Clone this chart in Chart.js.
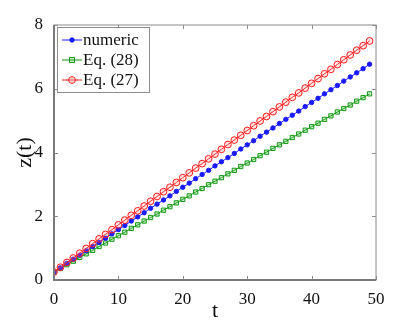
<!DOCTYPE html>
<html>
<head>
<meta charset="utf-8">
<script src="https://cdn.jsdelivr.net/npm/chart.js@4/dist/chart.umd.min.js"></script>
<style>
  html, body { margin: 0; padding: 0; background: #fff; }
  #wrap { width: 415px; height: 324px; }
</style>
</head>
<body>
<div id="wrap"><canvas id="zchart" width="415" height="324"></canvas></div>
<script>
// t = 0 .. 49
const tValues = [0,1,2,3,4,5,6,7,8,9,10,11,12,13,14,15,16,17,18,19,20,21,22,23,24,
                 25,26,27,28,29,30,31,32,33,34,35,36,37,38,39,40,41,42,43,44,45,46,47,48,49];
const numeric = [0.25,0.38,0.52,0.65,0.78,0.92,1.05,1.18,1.31,1.45,1.58,1.71,1.85,1.98,2.11,2.25,2.38,2.51,2.64,2.78,
                 2.91,3.04,3.18,3.31,3.44,3.58,3.71,3.84,3.97,4.11,4.24,4.37,4.51,4.64,4.77,4.91,5.04,5.17,5.30,5.44,
                 5.57,5.70,5.84,5.97,6.10,6.24,6.37,6.50,6.63,6.77];
const eq28 = [0.25,0.36,0.48,0.59,0.71,0.82,0.93,1.05,1.16,1.28,1.39,1.50,1.62,1.73,1.85,1.96,2.07,2.19,2.30,2.42,
              2.53,2.64,2.76,2.87,2.99,3.10,3.21,3.33,3.44,3.56,3.67,3.78,3.90,4.01,4.13,4.24,4.35,4.47,4.58,4.70,
              4.81,4.92,5.04,5.15,5.27,5.38,5.49,5.61,5.72,5.84];
const eq27 = [0.25,0.40,0.55,0.69,0.84,0.99,1.14,1.29,1.43,1.58,1.73,1.88,2.03,2.17,2.32,2.47,2.62,2.77,2.91,3.06,
              3.21,3.36,3.51,3.65,3.80,3.95,4.10,4.25,4.39,4.54,4.69,4.84,4.99,5.13,5.28,5.43,5.58,5.73,5.87,6.02,
              6.17,6.32,6.47,6.61,6.76,6.91,7.06,7.21,7.35,7.50];
const seriesNames = ["numeric", "Eq. (28)", "Eq. (27)"];
const xTicks = [0,10,20,30,40,50];
const yTicks = [0,2,4,6,8];

const FONT = "'Liberation Serif', 'DejaVu Serif', serif";
const AXIS = "#8c8c8c";

function pts(ys) { return tValues.map((t, i) => ({x: t, y: ys[i]})); }

// inward ticks on all four sides, spines, boxed legend
const framePlugin = {
    id: 'frame',
    afterDatasetsDraw(chart) {
        const ctx = chart.ctx, a = chart.chartArea;
        const xs = chart.scales.x, ys = chart.scales.y;
        ctx.save();
        ctx.strokeStyle = AXIS;
        ctx.lineWidth = 1;
        ctx.beginPath();
        xTicks.forEach(v => {
            const px = Math.round(xs.getPixelForValue(v)) + 0.5;
            ctx.moveTo(px, a.bottom); ctx.lineTo(px, a.bottom - 4);
            ctx.moveTo(px, a.top); ctx.lineTo(px, a.top + 4);
        });
        yTicks.forEach(v => {
            const py = Math.round(ys.getPixelForValue(v)) + 0.5;
            ctx.moveTo(a.left, py); ctx.lineTo(a.left + 4, py);
            ctx.moveTo(a.right, py); ctx.lineTo(a.right - 4, py);
        });
        ctx.stroke();
        ctx.lineWidth = 1;
        ctx.strokeRect(a.left, a.top, a.right - a.left, a.bottom - a.top);
        ctx.lineWidth = 2;
        ctx.strokeStyle = '#7a7a7a';
        ctx.beginPath();
        ctx.moveTo(a.left, a.top); ctx.lineTo(a.left, a.bottom); ctx.lineTo(a.right, a.bottom);
        ctx.stroke();

        // legend
        const lx = a.left + 3, ly = a.top + 2, lw = 92, lh = 65;
        ctx.fillStyle = '#fff';
        ctx.fillRect(lx, ly, lw, lh);
        ctx.lineWidth = 1;
        ctx.strokeStyle = AXIS;
        ctx.strokeRect(lx + 0.5, ly + 0.5, lw, lh);
        ctx.font = "17px " + FONT;
        ctx.textBaseline = 'middle';
        chart.data.datasets.forEach((ds, i) => {
            const cy = ly + 13 + i * 20;
            ctx.strokeStyle = ds.borderColor;
            ctx.lineWidth = 1;
            ctx.beginPath();
            ctx.moveTo(lx + 5, cy); ctx.lineTo(lx + 25, cy);
            ctx.stroke();
            ctx.beginPath();
            if (ds.pointStyle === 'rect') {
                ctx.fillStyle = ds.pointBackgroundColor;
                ctx.rect(lx + 12.5, cy - 2.5, 5, 5);
                ctx.fill(); ctx.stroke();
            } else {
                ctx.arc(lx + 15, cy, ds.pointRadius, 0, Math.PI * 2);
                ctx.fillStyle = ds.pointBackgroundColor;
                ctx.fill(); ctx.stroke();
            }
            ctx.fillStyle = '#111';
            ctx.fillText(ds.label, lx + 26, cy + 1);
        });
        ctx.restore();
    }
};

const config = {
    type: 'line',
    data: {
        datasets: [{
            label: seriesNames[0],
            data: pts(numeric),
            borderColor: "#1a1aff",
            backgroundColor: "#1a1aff",
            pointBackgroundColor: "#1a1aff",
            pointBorderColor: "#1a1aff",
            pointStyle: 'circle',
            pointRadius: 2.2,
            borderWidth: 1,
            order: 2
        }, {
            label: seriesNames[1],
            data: pts(eq28),
            borderColor: "#139a13",
            backgroundColor: "rgba(60,180,60,0.25)",
            pointBackgroundColor: "rgba(60,180,60,0.25)",
            pointBorderColor: "#139a13",
            pointStyle: 'rect',
            pointRadius: 3,
            borderWidth: 1,
            order: 3
        }, {
            label: seriesNames[2],
            data: pts(eq27),
            borderColor: "#ff1a1a",
            backgroundColor: "rgba(255,120,120,0.2)",
            pointBackgroundColor: "rgba(255,120,120,0.2)",
            pointBorderColor: "#ff1a1a",
            pointStyle: 'circle',
            pointRadius: 3.4,
            borderWidth: 1,
            order: 1
        }]
    },
    options: {
        responsive: false,
        animation: false,
        layout: { padding: { left: 0, right: 39, top: 25, bottom: 0 } },
        plugins: { legend: { display: false }, tooltip: { enabled: false } },
        elements: { line: { tension: 0 }, point: { borderWidth: 1 } },
        scales: {
            x: {
                type: 'linear', min: 0, max: 50,
                afterBuildTicks: s => { s.ticks = xTicks.map(v => ({value: v})); },
                afterFit: s => { s.height = 44; },
                grid: { display: false },
                border: { display: false },
                ticks: { color: '#111', padding: 1, font: { family: FONT, size: 17 } },
                title: { display: true, text: 't', color: '#111', padding: { top: -5, bottom: 0 },
                         font: { family: FONT, size: 22 } }
            },
            y: {
                type: 'linear', min: 0, max: 8,
                afterBuildTicks: s => { s.ticks = yTicks.map(v => ({value: v})); },
                afterFit: s => { s.width = 54; },
                grid: { display: false },
                border: { display: false },
                ticks: { color: '#111', padding: 3, font: { family: FONT, size: 17 } },
                title: { display: true, text: 'z(t)', color: '#111', padding: { top: 12, bottom: 0 },
                         font: { family: FONT, size: 22 } }
            }
        }
    },
    plugins: [framePlugin]
};

new Chart(document.getElementById("zchart"), config);
</script>
</body>
</html>
